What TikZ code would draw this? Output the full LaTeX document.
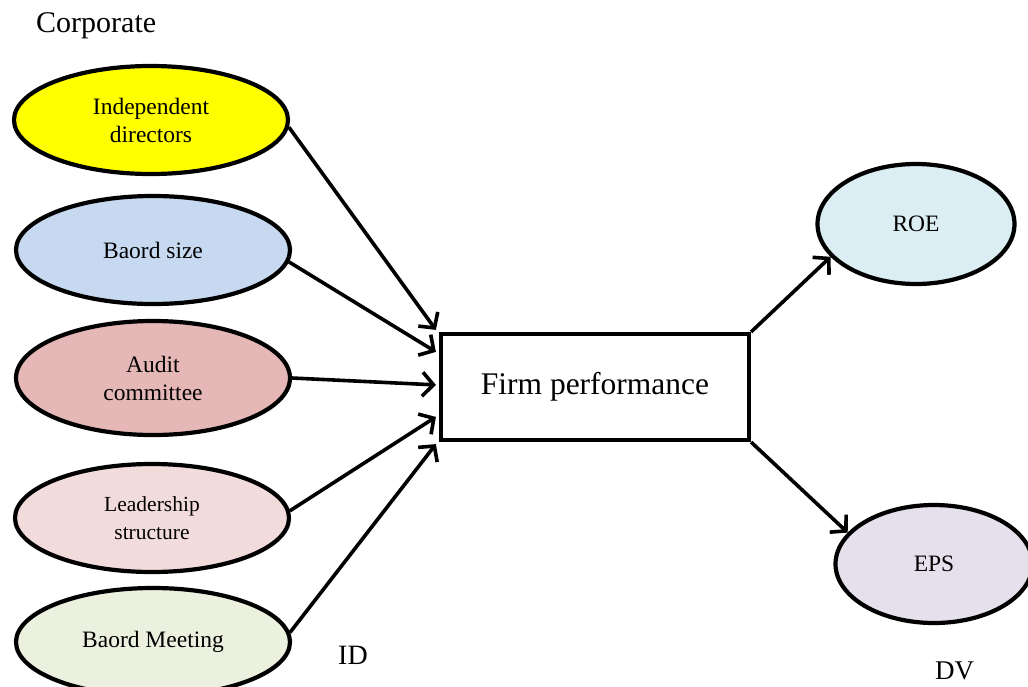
\documentclass[tikz,border=0pt]{standalone}
\usepackage{fontspec}
\setmainfont{Liberation Serif}
\usetikzlibrary{shapes.geometric,arrows.meta,calc}
\definecolor{cyel}{HTML}{FFFF00}
\definecolor{cblue}{HTML}{C6D9F0}
\definecolor{cred}{HTML}{E5B8B7}
\definecolor{cpink}{HTML}{F2DCDB}
\definecolor{cgreen}{HTML}{EBF1DE}
\definecolor{ccyan}{HTML}{DBEEF3}
\definecolor{cviolet}{HTML}{E5E0EC}
\tikzset{
  var/.style={ellipse, draw=black, line width=4.2pt, inner sep=0pt, align=center,
    font=\fontsize{23.5}{28}\selectfont, minimum width=274pt, minimum height=108pt},
  dvar/.style={var, minimum width=197pt, minimum height=120pt},
  fp/.style={rectangle, draw=black, line width=4.2pt, fill=white,
    minimum width=308pt, minimum height=106pt, font=\fontsize{31.5}{34}\selectfont},
  arr/.style={line width=3.6pt, -{Straight Barb[length=11pt,width=24pt,line width=3.6pt]}},
  lbl/.style={font=\fontsize{30}{32}\selectfont, inner sep=0pt, anchor=base west}
}
\begin{document}
\begin{tikzpicture}[x=1pt,y=-1pt]
\useasboundingbox (0,0) rectangle (1028,686);
\fill[white] (0,0) rectangle (1028,686);
\node[lbl] (corp) at (36,32) {Corporate};
\node[var, fill=cyel] (ind) at (151,120) {Independent\\directors};
\node[var, fill=cblue] (size) at (153,250) {Baord size};
\node[var, fill=cred, minimum height=114pt] (aud) at (153,378) {Audit\\committee};
\node[var, fill=cpink, font=\fontsize{21.5}{28}\selectfont] (lead) at (152,518) {Leadership\\structure};
\node[var, fill=cgreen] (meet) at (153,642) {Baord Meeting};
\node[fp] (box) at (595,387) {Firm performance};
\node[dvar, fill=ccyan] (roe) at (916,224) {ROE};
\node[dvar, fill=cviolet, minimum height=118pt] (eps) at (934,564) {EPS};
\node[lbl, font=\fontsize{28}{30}\selectfont] (id) at (338,664) {ID};
\node[lbl, font=\fontsize{27}{30}\selectfont] (dv) at (935,679) {DV};
\coordinate (t1) at ($(box.north west)+(-3,-2)$);
\coordinate (t2) at ($(box.north west)+(-3,20)$);
\coordinate (t3) at ($(box.north west)+(-3,53)$);
\coordinate (t4) at ($(box.north west)+(-3,85)$);
\coordinate (t5) at ($(box.south west)+(-3,2)$);
\draw[arr] (ind.-3) -- (t1);
\draw[arr] (size.-5) -- (t2);
\draw[arr] (aud.east) -- (t3);
\draw[arr] (lead.3) -- (t4);
\draw[arr] (meet.4) -- (t5);
\draw[arr] (box.north east) -- (roe.-159);
\draw[arr] (box.south east) -- (eps.160);
\end{tikzpicture}
\end{document}
